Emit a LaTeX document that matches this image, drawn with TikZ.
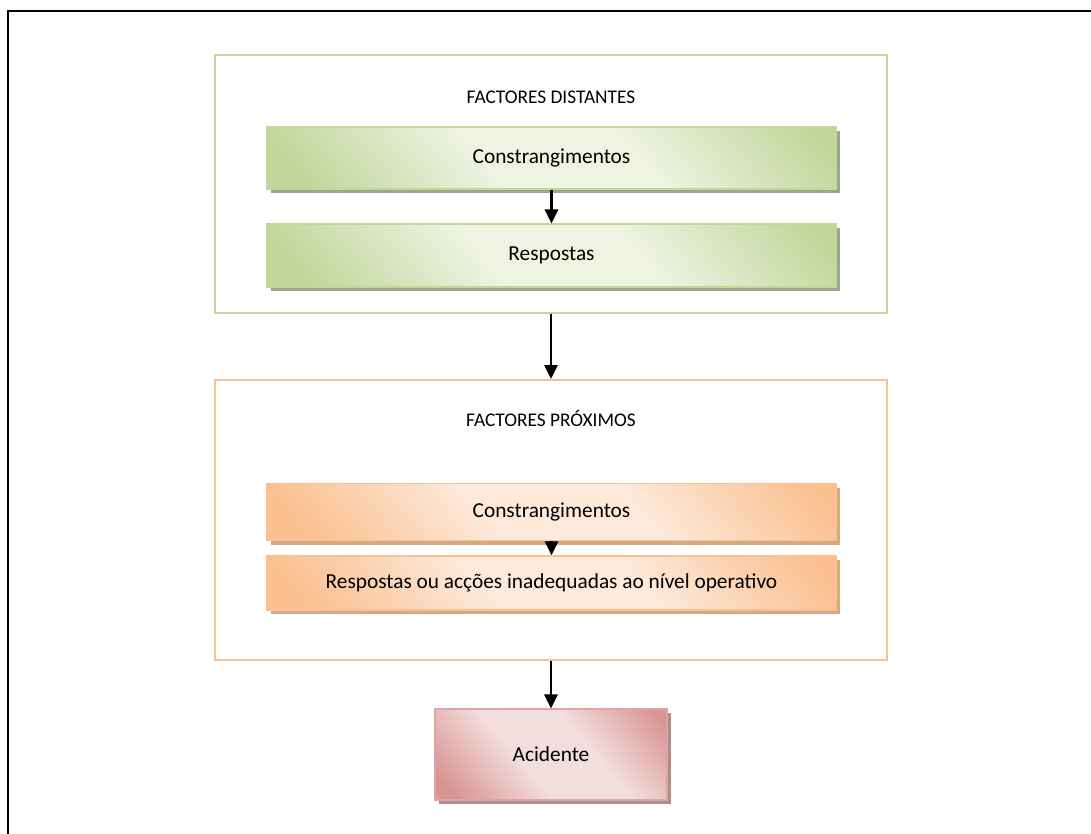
\documentclass[tikz,border=0pt]{standalone}
\usepackage{fontspec}
\setmainfont{Carlito}
\usetikzlibrary{arrows.meta,shadows}

\definecolor{grnDark}{HTML}{C2D69B}
\definecolor{grnLight}{HTML}{EEF3E2}
\definecolor{grnLine}{HTML}{C3D69B}
\definecolor{grnShadow}{HTML}{9DA88A}
\definecolor{orgDark}{HTML}{FAC090}
\definecolor{orgLight}{HTML}{FDEADB}
\definecolor{orgLine}{HTML}{FBC08E}
\definecolor{orgShadow}{HTML}{D2AA86}
\definecolor{redDark}{HTML}{D99594}
\definecolor{redLight}{HTML}{F3DEDE}
\definecolor{redShadow}{HTML}{B08C8C}

% soft diagonal dark - light - dark gradients
\pgfdeclarehorizontalshading{greenshade}{100bp}{color(0bp)=(grnDark); color(20bp)=(grnDark); color(42bp)=(grnLight); color(60bp)=(grnLight); color(82bp)=(grnDark); color(100bp)=(grnDark)}
\pgfdeclarehorizontalshading{orangeshade}{100bp}{color(0bp)=(orgDark); color(20bp)=(orgDark); color(42bp)=(orgLight); color(60bp)=(orgLight); color(82bp)=(orgDark); color(100bp)=(orgDark)}
\pgfdeclarehorizontalshading{redshade}{100bp}{color(0bp)=(redDark); color(20bp)=(redDark); color(42bp)=(redLight); color(60bp)=(redLight); color(82bp)=(redDark); color(100bp)=(redDark)}

\tikzset{
  frame/.style={draw=#1, line width=1.5pt, minimum width=504pt, inner sep=0pt},
  title/.style={font=\fontsize{14.5}{17}\selectfont},
  stepbox/.style={rectangle, minimum width=426.75pt, inner sep=0pt,
    font=\fontsize{16}{19}\selectfont, line width=1.1pt},
  greenbox/.style={stepbox, draw=grnLine, shading=greenshade, shading angle=40,
    drop shadow={shadow xshift=3pt, shadow yshift=-3pt, fill=grnShadow, opacity=1}},
  orangebox/.style={stepbox, draw=orgLine, shading=orangeshade, shading angle=40,
    drop shadow={shadow xshift=3pt, shadow yshift=-3pt, fill=orgShadow, opacity=1}},
  redbox/.style={stepbox, minimum width=174pt, draw=redDark!85, shading=redshade, shading angle=40,
    drop shadow={shadow xshift=3pt, shadow yshift=-3pt, fill=redShadow, opacity=1}},
  flow/.style={line width=1.6pt, -{Triangle[length=10.5pt, width=10pt]}}
}

\begin{document}
\begin{tikzpicture}[x=0.75pt, y=-0.75pt]
  \useasboundingbox (0,0) rectangle (1091,834);

  % page border (top and left edges)
  \coordinate (pageTL) at (8,11);
  \coordinate (pageTR) at (1091,11);
  \coordinate (pageBL) at (8,834);
  \draw[line width=1.8pt] (pageTR) -- (pageTL) -- (pageBL);

  % distant factors
  \node[frame=grnLine, minimum height=193.5pt] (distant) at (551,184) {};
  \node[title] (distTitle) at (551,97) {FACTORES DISTANTES};
  \node[greenbox, minimum height=46.5pt] (dConst) at (551.5,158) {Constrangimentos};
  \node[greenbox, minimum height=47pt] (dResp) at (551.5,255.5) {Respostas};

  % proximate factors
  \node[frame=orgLine, minimum height=210pt] (proximate) at (551,520) {};
  \node[title] (proxTitle) at (551,418) {FACTORES PRÓXIMOS};
  \node[orangebox, minimum height=42.75pt] (pConst) at (551.5,512) {Constrangimentos};
  \node[orangebox, minimum height=40.5pt] (pResp) at (551.5,583) {Respostas ou acções inadequadas ao nível operativo};

  % outcome
  \node[redbox, minimum height=68pt] (accident) at (551,754.5) {Acidente};

  % connectors
  \draw[flow] (dConst.south) -- (dResp.north);
  \draw[flow] (distant.south) -- (proximate.north);
  \draw[flow] (pConst.south) -- (pResp.north);
  \draw[flow] (proximate.south) -- (accident.north);
\end{tikzpicture}
\end{document}
